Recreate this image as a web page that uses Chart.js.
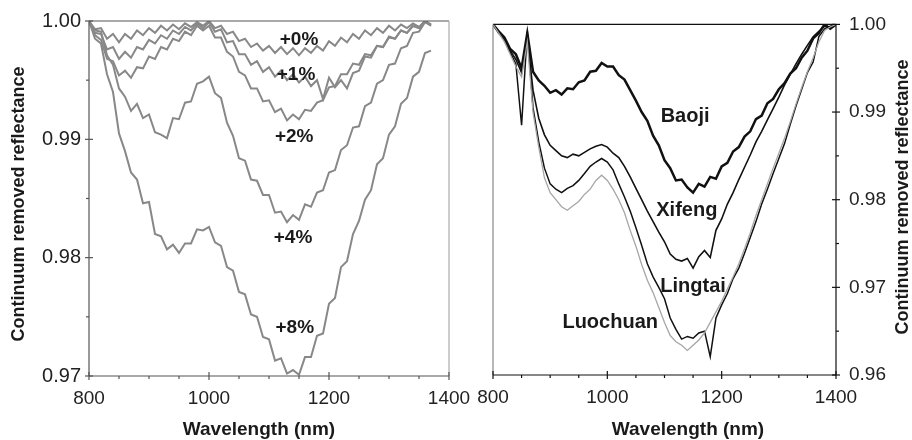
<!DOCTYPE html>
<html>
<head>
<meta charset="utf-8">
<script src="https://cdn.jsdelivr.net/npm/chart.js@4.4.1/dist/chart.umd.min.js"></script>
<style>
  html, body { margin: 0; padding: 0; background: #fff; }
  #wrap { position: relative; width: 912px; height: 440px; }
  #wrap canvas { position: absolute; left: 0; top: 0; }
</style>
</head>
<body>
<div id="wrap">
  <canvas id="leftChart" width="912" height="440"></canvas>
  <canvas id="rightChart" width="912" height="440"></canvas>
</div>
<script>
// wavelengths (nm)
const wlLeft = [800,810,820,830,840,850,860,870,880,890,900,910,920,930,940,950,960,970,980,990,
  1000,1010,1020,1030,1040,1050,1060,1070,1080,1090,1100,1110,1120,1130,1140,1150,1160,1170,1180,1190,
  1200,1210,1220,1230,1240,1250,1260,1270,1280,1290,1300,1310,1320,1330,1340,1350,1360,1370];
const wlRight = [800,810,820,830,840,850,860,870,880,890,900,910,920,930,940,950,960,970,980,990,
  1000,1010,1020,1030,1040,1050,1060,1070,1080,1090,1100,1110,1120,1130,1140,1150,1160,1170,1180,1190,
  1200,1210,1220,1230,1240,1250,1260,1270,1280,1290,1300,1310,1320,1330,1340,1350,1360,1370,1380,1390,1400];

// left panel: added amounts
const plus0 = [1.0000,0.9993,0.9994,0.9985,0.9989,0.9982,0.9989,0.9985,0.9992,0.9988,0.9994,0.9990,0.9996,0.9992,0.9997,0.9993,0.9998,0.9995,0.9999,0.9996,
  1.0000,0.9994,0.9996,0.9989,0.9991,0.9983,0.9985,0.9978,0.9981,0.9975,0.9979,0.9973,0.9978,0.9972,0.9977,0.9971,0.9977,0.9973,0.9979,0.9975,
  0.9983,0.9979,0.9986,0.9982,0.9989,0.9985,0.9992,0.9988,0.9994,0.9990,0.9996,0.9992,0.9997,0.9994,0.9998,0.9995,1.0000,0.9997];
const plus1 = [1.0000,0.9990,0.9989,0.9976,0.9978,0.9968,0.9974,0.9969,0.9978,0.9976,0.9984,0.9981,0.9988,0.9985,0.9992,0.9989,0.9995,0.9992,0.9998,0.9994,
  0.9999,0.9991,0.9993,0.9982,0.9983,0.9972,0.9972,0.9963,0.9966,0.9957,0.9961,0.9953,0.9958,0.9950,0.9955,0.9948,0.9953,0.9945,0.9950,0.9934,
  0.9952,0.9944,0.9950,0.9943,0.9956,0.9958,0.9970,0.9969,0.9979,0.9978,0.9987,0.9985,0.9992,0.9990,0.9996,0.9994,1.0000,0.9996];
const plus2 = [1.0000,0.9988,0.9984,0.9968,0.9966,0.9954,0.9958,0.9952,0.9961,0.9960,0.9970,0.9968,0.9978,0.9976,0.9985,0.9983,0.9991,0.9988,0.9996,0.9992,
  0.9996,0.9986,0.9986,0.9974,0.9970,0.9957,0.9954,0.9943,0.9943,0.9932,0.9933,0.9923,0.9926,0.9916,0.9921,0.9917,0.9925,0.9924,0.9931,0.9933,
  0.9944,0.9945,0.9955,0.9955,0.9964,0.9963,0.9972,0.9971,0.9979,0.9978,0.9986,0.9985,0.9992,0.9990,0.9996,0.9994,1.0000,0.9997];
const plus4 = [1.0000,0.9992,0.9991,0.9971,0.9963,0.9943,0.9936,0.9924,0.9930,0.9918,0.9921,0.9906,0.9904,0.9901,0.9918,0.9917,0.9931,0.9932,0.9947,0.9949,
  0.9953,0.9939,0.9935,0.9914,0.9903,0.9884,0.9882,0.9866,0.9865,0.9853,0.9853,0.9838,0.9839,0.9830,0.9836,0.9832,0.9845,0.9843,0.9855,0.9857,
  0.9872,0.9874,0.9891,0.9895,0.9910,0.9911,0.9928,0.9931,0.9947,0.9950,0.9963,0.9964,0.9977,0.9979,0.9990,0.9991,0.9999,0.9996];
const plus8 = [1.0000,0.9985,0.9981,0.9955,0.9940,0.9905,0.9890,0.9872,0.9866,0.9846,0.9847,0.9820,0.9818,0.9807,0.9811,0.9804,0.9812,0.9812,0.9824,0.9823,
  0.9826,0.9813,0.9810,0.9792,0.9789,0.9771,0.9769,0.9752,0.9750,0.9733,0.9731,0.9713,0.9715,0.9702,0.9705,0.9701,0.9716,0.9716,0.9734,0.9736,
  0.9761,0.9766,0.9792,0.9797,0.9820,0.9831,0.9849,0.9857,0.9879,0.9884,0.9904,0.9911,0.9930,0.9935,0.9953,0.9957,0.9973,0.9975];

// right panel: loess sites
const baoji = [1.0000,0.9992,0.9985,0.9972,0.9966,0.9950,0.9990,0.9946,0.9936,0.9930,0.9922,0.9925,0.9920,0.9927,0.9926,0.9934,0.9936,0.9946,0.9947,0.9956,
  0.9952,0.9952,0.9942,0.9937,0.9925,0.9913,0.9900,0.9890,0.9873,0.9862,0.9845,0.9836,0.9822,0.9823,0.9814,0.9808,0.9818,0.9815,0.9826,0.9824,
  0.9838,0.9842,0.9855,0.9860,0.9872,0.9878,0.9892,0.9896,0.9910,0.9915,0.9926,0.9933,0.9944,0.9950,0.9962,0.9970,0.9984,0.9990,1.0000,0.9995,1.0000];
const xifeng = [1.0000,0.9990,0.9983,0.9970,0.9960,0.9945,0.9985,0.9925,0.9893,0.9874,0.9862,0.9856,0.9850,0.9848,0.9852,0.9850,0.9854,0.9858,0.9861,0.9863,
  0.9860,0.9853,0.9848,0.9838,0.9826,0.9813,0.9800,0.9787,0.9775,0.9763,0.9752,0.9738,0.9732,0.9730,0.9733,0.9722,0.9735,0.9742,0.9734,0.9765,
  0.9778,0.9795,0.9808,0.9823,0.9837,0.9851,0.9866,0.9878,0.9891,0.9904,0.9917,0.9931,0.9943,0.9955,0.9966,0.9976,0.9986,0.9992,0.9998,0.9996,1.0000];
const lingtai = [1.0000,0.9991,0.9982,0.9968,0.9955,0.9885,0.9992,0.9905,0.9866,0.9836,0.9818,0.9812,0.9808,0.9813,0.9816,0.9822,0.9830,0.9838,0.9843,0.9847,
  0.9843,0.9834,0.9818,0.9803,0.9787,0.9768,0.9748,0.9727,0.9712,0.9700,0.9687,0.9665,0.9652,0.9641,0.9644,0.9642,0.9648,0.9650,0.9621,0.9665,
  0.9680,0.9693,0.9710,0.9722,0.9739,0.9757,0.9775,0.9795,0.9812,0.9830,0.9847,0.9864,0.9886,0.9907,0.9926,0.9945,0.9957,0.9986,0.9995,0.9998,1.0000];
const luochuan = [1.0000,0.9990,0.9980,0.9966,0.9952,0.9940,0.9980,0.9900,0.9860,0.9825,0.9808,0.9800,0.9792,0.9788,0.9793,0.9798,0.9806,0.9812,0.9822,0.9828,
  0.9822,0.9812,0.9800,0.9785,0.9765,0.9747,0.9726,0.9708,0.9694,0.9677,0.9660,0.9645,0.9638,0.9634,0.9628,0.9634,0.9640,0.9648,0.9660,0.9672,
  0.9684,0.9698,0.9712,0.9727,0.9744,0.9762,0.9782,0.9800,0.9818,0.9836,0.9853,0.9870,0.9889,0.9909,0.9928,0.9946,0.9962,0.9980,0.9993,0.9997,1.0000];

// text labels placed in data space [text, wavelength, reflectance]
const leftLabels = [["+0%",1150,0.9984],["+1%",1145,0.99544],["+2%",1142,0.99021],["+4%",1140,0.98169],["+8%",1143,0.97409]];
const rightLabels = [["Baoji",1136,0.98949],["Xifeng",1139,0.97876],["Lingtai",1150,0.97006],["Luochuan",1005,0.96599]];

const FONT = "'Liberation Sans', Arial, sans-serif";
const pts = (wl, ys) => wl.map((w, i) => ({ x: w, y: ys[i] }));
const isMajor = (v, step) => Math.abs(v / step - Math.round(v / step)) < 1e-6;

function decor(cfg) {
  return {
    id: "decor",
    afterDatasetsDraw(chart) {
      const ctx = chart.ctx;
      const a = chart.chartArea;
      const xs = chart.scales.x, ys = chart.scales.y;
      ctx.save();
      // frame
      const side = (x1, y1, x2, y2, col) => {
        ctx.strokeStyle = col; ctx.lineWidth = 1.2;
        ctx.beginPath(); ctx.moveTo(x1, y1); ctx.lineTo(x2, y2); ctx.stroke();
      };
      side(a.left, a.top, a.right, a.top, cfg.top);
      side(a.right, a.top, a.right, a.bottom, cfg.right);
      side(a.left, a.top, a.left, a.bottom, cfg.left);
      side(a.left, a.bottom, a.right, a.bottom, cfg.bottom);

      // tick marks
      ctx.lineWidth = 1.2;
      xs.ticks.forEach(t => {
        const px = xs.getPixelForValue(t.value);
        const maj = isMajor(t.value, 200);
        ctx.strokeStyle = cfg.bottom;
        ctx.beginPath();
        ctx.moveTo(px, a.bottom - (maj ? 4 : 0));
        ctx.lineTo(px, a.bottom + (maj ? 4 : 3));
        ctx.stroke();
      });
      const yx = cfg.yRight ? a.right : a.left;
      const dir = cfg.yRight ? 1 : -1;
      ys.ticks.forEach(t => {
        const py = ys.getPixelForValue(t.value);
        const maj = isMajor(t.value, 0.01);
        ctx.strokeStyle = cfg.yRight ? cfg.right : cfg.left;
        ctx.beginPath();
        ctx.moveTo(yx - dir * (maj ? 4 : 0), py);
        ctx.lineTo(yx + dir * (maj ? 4 : 3), py);
        ctx.stroke();
      });

      // curve labels
      ctx.fillStyle = "#1a1a1a";
      ctx.font = "bold " + cfg.labelSize + "px " + FONT;
      ctx.textAlign = "center"; ctx.textBaseline = "middle";
      cfg.labels.forEach(([txt, w, r]) => {
        ctx.fillText(txt, xs.getPixelForValue(w), ys.getPixelForValue(r));
      });

      // axis titles
      ctx.font = "bold 19px " + FONT;
      ctx.fillText("Wavelength (nm)", cfg.xTitle[0], cfg.xTitle[1]);
      ctx.font = "bold 18px " + FONT;
      ctx.translate(cfg.yTitle[0], cfg.yTitle[1]);
      ctx.rotate(-Math.PI / 2);
      ctx.fillText("Continuum removed reflectance", 0, 0);
      ctx.restore();
    }
  };
}

function makeChart(id, sets, yMin, yRight, pad, yWidth, xHeight, cfg) {
  return new Chart(document.getElementById(id), {
    type: "line",
    data: { datasets: sets },
    options: {
      responsive: false,
      animation: false,
      events: [],
      layout: { padding: pad },
      elements: { point: { radius: 0 }, line: { tension: 0 } },
      plugins: { legend: { display: false }, tooltip: { enabled: false } },
      scales: {
        x: {
          type: "linear", min: 800, max: 1400,
          grid: { display: false, drawTicks: false },
          border: { display: false },
          afterFit: s => { s.height = xHeight; },
          ticks: {
            stepSize: 50, autoSkip: false, maxRotation: 0, padding: 11,
            color: "#222", font: { family: FONT, size: 19 },
            callback: v => isMajor(v, 200) ? String(v) : ""
          }
        },
        y: {
          type: "linear", min: yMin, max: 1.0,
          position: yRight ? "right" : "left",
          grid: { display: false, drawTicks: false },
          border: { display: false },
          afterFit: s => { s.width = yWidth; },
          ticks: {
            stepSize: 0.005, autoSkip: false, padding: yRight ? 13 : 8,
            color: "#222", font: { family: FONT, size: yRight ? 19 : 20 },
            callback: v => isMajor(v, 0.01) ? v.toFixed(2) : ""
          }
        }
      }
    },
    plugins: [decor(cfg)]
  });
}

const gray = "#888888";
const leftSets = [plus0, plus1, plus2, plus4, plus8].map(ys => ({
  data: pts(wlLeft, ys), borderColor: gray, borderWidth: 2
}));
makeChart("leftChart", leftSets, 0.97, false,
  { left: 0, top: 21, right: 463, bottom: 0 }, 89, 64,
  { top: "#555", right: "#aaa", left: "#555", bottom: "#555", yRight: false,
    labels: leftLabels, labelSize: 19, xTitle: [259, 430], yTitle: [19, 204] });

const rightSets = [
  { data: pts(wlRight, luochuan), borderColor: "#a6a6a6", borderWidth: 1.3 },
  { data: pts(wlRight, lingtai), borderColor: "#111", borderWidth: 1.5 },
  { data: pts(wlRight, xifeng), borderColor: "#111", borderWidth: 1.6 },
  { data: pts(wlRight, baoji), borderColor: "#111", borderWidth: 2.5 }
];
makeChart("rightChart", rightSets, 0.96, true,
  { left: 493, top: 21, right: 0, bottom: 0 }, 76, 65,
  { top: "#111", right: "#111", left: "#888", bottom: "#111", yRight: true,
    labels: rightLabels, labelSize: 20, xTitle: [688, 430], yTitle: [903, 197] });
</script>
</body>
</html>
